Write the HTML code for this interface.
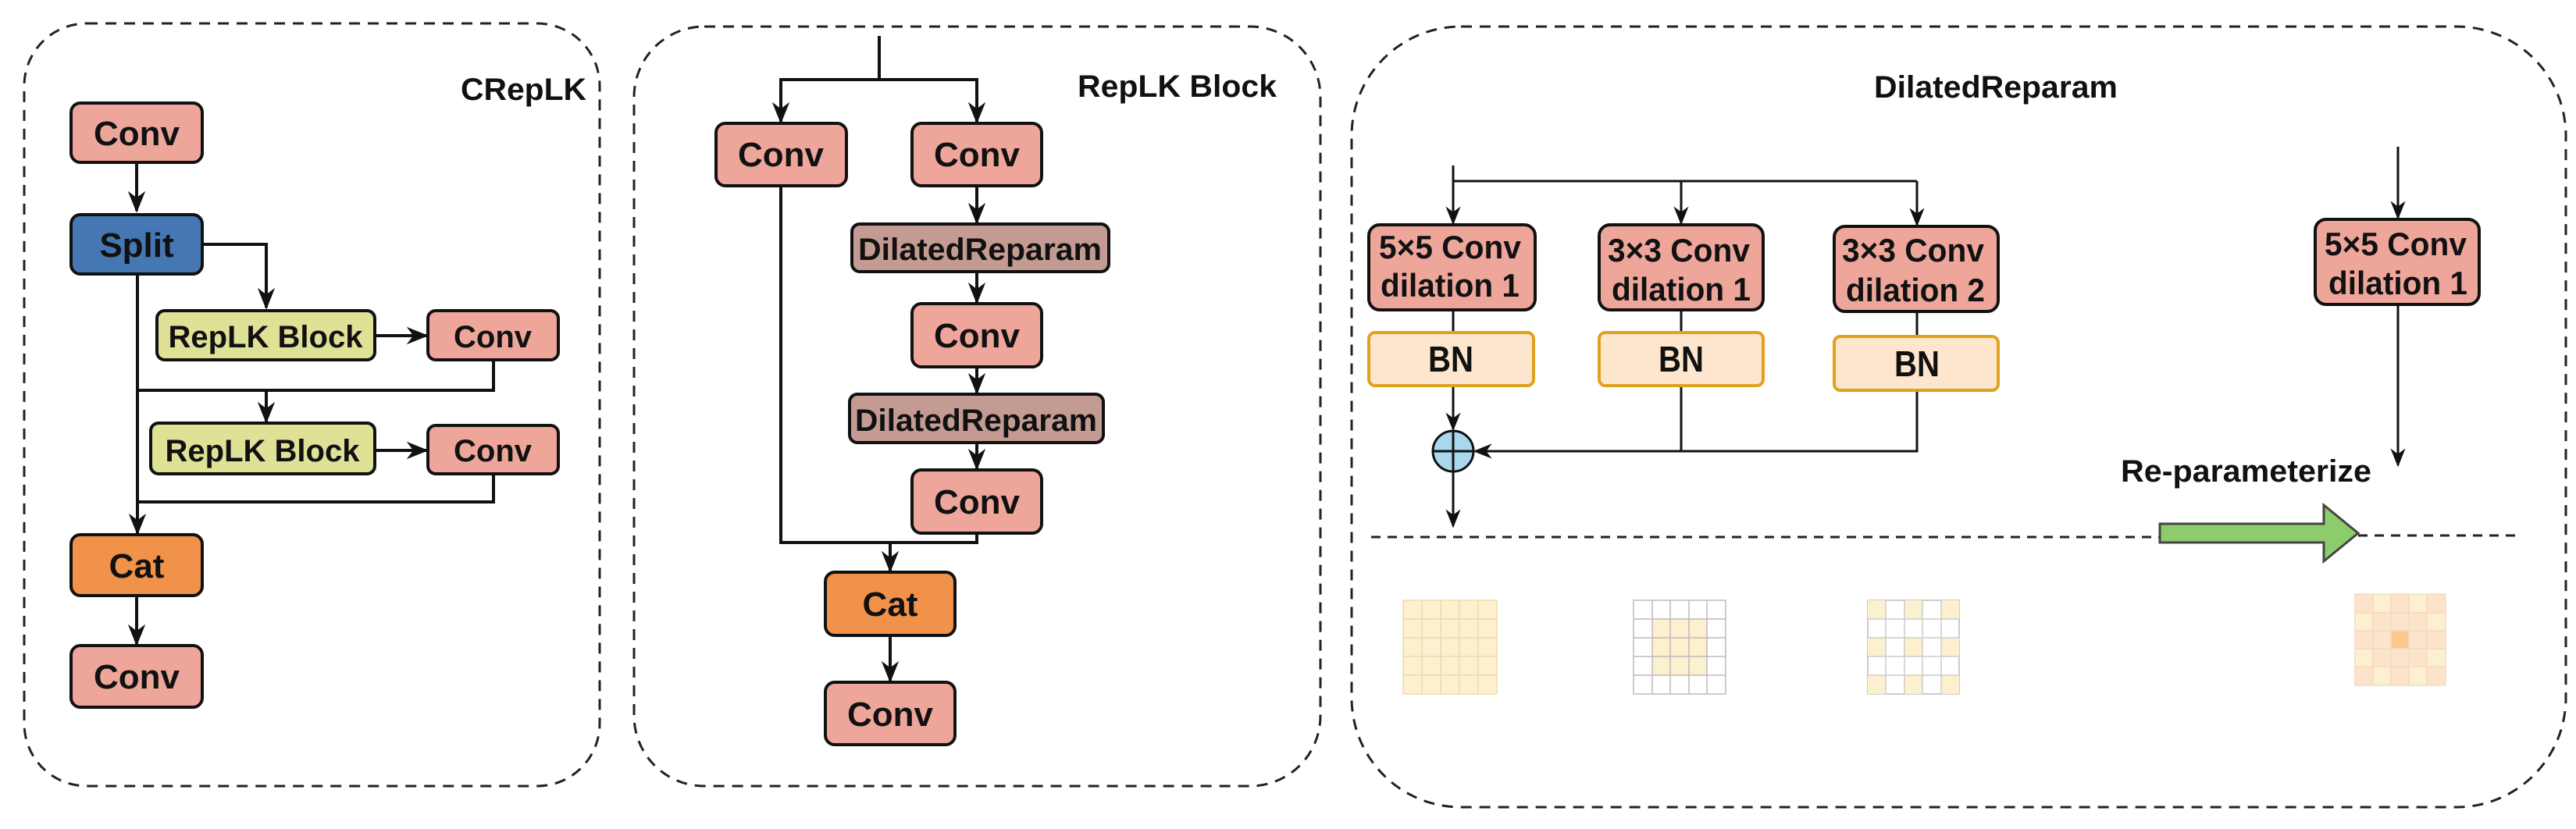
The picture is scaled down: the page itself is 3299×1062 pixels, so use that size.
<!DOCTYPE html>
<html><head><meta charset="utf-8"><style>
html,body{margin:0;padding:0;background:#fff;}
svg{display:block;}
text{font-family:"Liberation Sans",Arial,sans-serif;font-weight:bold;fill:#111;}
</style></head><body>
<svg width="3299" height="1062" viewBox="0 0 3299 1062" xmlns="http://www.w3.org/2000/svg">
<defs>
<marker id="a" viewBox="0 0 20 20" refX="18" refY="10" markerWidth="28" markerHeight="28" orient="auto" markerUnits="userSpaceOnUse"><path d="M0,2 L20,10 L0,18 L6,10 z" fill="#111"/></marker>
<marker id="b" viewBox="0 0 20 20" refX="18" refY="10" markerWidth="24" markerHeight="24" orient="auto" markerUnits="userSpaceOnUse"><path d="M0,2 L20,10 L0,18 L6,10 z" fill="#111"/></marker>
</defs>
<g fill="none" stroke="#222" stroke-width="3" stroke-dasharray="14,10">
<rect x="31" y="30" width="737" height="977" rx="80"/>
<rect x="812" y="34" width="879" height="973" rx="90"/>
<rect x="1731" y="34" width="1555" height="1000" rx="140"/>
</g>
<!-- Panel 1 -->
<text x="590" y="128" font-size="40" textLength="161" lengthAdjust="spacingAndGlyphs">CRepLK</text>
<g stroke="#111" stroke-width="4" fill="none">
<path d="M175,208 V270" marker-end="url(#a)"/>
<path d="M259,313 H341 V394" marker-end="url(#a)"/>
<path d="M480,430 H546" marker-end="url(#a)"/>
<path d="M632,461 V500 H176"/>
<path d="M341,500 V540" marker-end="url(#a)"/>
<path d="M480,577 H546" marker-end="url(#a)"/>
<path d="M632,607 V643 H176"/>
<path d="M176,351 V683" marker-end="url(#a)"/>
<path d="M175,763 V825" marker-end="url(#a)"/>
</g>
<g stroke="#111" stroke-width="4">
<rect x="91" y="132" width="168" height="76" rx="12" fill="#eea69b"/>
<rect x="91" y="275" width="168" height="76" rx="12" fill="#4577b2"/>
<rect x="201" y="398" width="279" height="63" rx="10" fill="#dfe196"/>
<rect x="548" y="398" width="167" height="63" rx="10" fill="#eea69b"/>
<rect x="193" y="542" width="287" height="65" rx="10" fill="#dfe196"/>
<rect x="548" y="545" width="167" height="62" rx="10" fill="#eea69b"/>
<rect x="91" y="685" width="168" height="78" rx="12" fill="#f0924a"/>
<rect x="91" y="827" width="168" height="79" rx="12" fill="#eea69b"/>
</g>
<g font-size="44" text-anchor="middle">
<text x="175" y="186">Conv</text>
<text x="175" y="329">Split</text>
<text x="340" y="445" font-size="40">RepLK Block</text>
<text x="631" y="445" font-size="40">Conv</text>
<text x="336" y="591" font-size="40">RepLK Block</text>
<text x="631" y="591" font-size="40">Conv</text>
<text x="175" y="740">Cat</text>
<text x="175" y="882">Conv</text>
</g>
<!-- Panel 2 -->
<text x="1380" y="124" font-size="40" textLength="255" lengthAdjust="spacingAndGlyphs">RepLK Block</text>
<g stroke="#111" stroke-width="4" fill="none">
<path d="M1126,46 V102"/>
<path d="M1126,102 H1000 V156" marker-end="url(#a)"/>
<path d="M1126,102 H1251 V156" marker-end="url(#a)"/>
<path d="M1251,238 V285" marker-end="url(#a)"/>
<path d="M1251,348 V387" marker-end="url(#a)"/>
<path d="M1251,470 V503" marker-end="url(#a)"/>
<path d="M1251,567 V600" marker-end="url(#a)"/>
<path d="M1000,238 V695 H1251 V683"/>
<path d="M1140,695 V731" marker-end="url(#a)"/>
<path d="M1140,814 V872" marker-end="url(#a)"/>
</g>
<g stroke="#111" stroke-width="4">
<rect x="917" y="158" width="167" height="80" rx="12" fill="#eea69b"/>
<rect x="1168" y="158" width="166" height="80" rx="12" fill="#eea69b"/>
<rect x="1091" y="287" width="329" height="61" rx="10" fill="#c49b93"/>
<rect x="1168" y="389" width="166" height="81" rx="12" fill="#eea69b"/>
<rect x="1088" y="505" width="325" height="62" rx="10" fill="#c49b93"/>
<rect x="1168" y="602" width="166" height="81" rx="12" fill="#eea69b"/>
<rect x="1057" y="733" width="166" height="81" rx="12" fill="#f0924a"/>
<rect x="1057" y="874" width="166" height="80" rx="12" fill="#eea69b"/>
</g>
<g font-size="44" text-anchor="middle">
<text x="1000" y="213">Conv</text>
<text x="1251" y="213">Conv</text>
<text x="1255" y="333" font-size="40" textLength="312" lengthAdjust="spacingAndGlyphs">DilatedReparam</text>
<text x="1251" y="445">Conv</text>
<text x="1250" y="552" font-size="40" textLength="310" lengthAdjust="spacingAndGlyphs">DilatedReparam</text>
<text x="1251" y="658">Conv</text>
<text x="1140" y="789">Cat</text>
<text x="1140" y="930">Conv</text>
</g>
<!-- Panel 3 -->
<text x="2400" y="125" font-size="40" textLength="312" lengthAdjust="spacingAndGlyphs">DilatedReparam</text>
<g stroke="#111" stroke-width="3" fill="none">
<path d="M1861,212 V232 H2455"/>
<path d="M1861,232 V286" marker-end="url(#b)"/>
<path d="M2153,232 V286" marker-end="url(#b)"/>
<path d="M2455,232 V288" marker-end="url(#b)"/>
<path d="M1861,397 V426 M2153,397 V426 M2455,399 V431"/>
<path d="M1861,494 V550" marker-end="url(#b)"/>
<path d="M2153,494 V578 M2455,500 V578 H1889" marker-end="url(#b)"/>
<path d="M1861,604 V674" marker-end="url(#b)"/>
<path d="M3071,188 V279" marker-end="url(#b)"/>
<path d="M3071,390 V596" marker-end="url(#b)"/>
</g>
<circle cx="1861" cy="578" r="26" fill="#a9d8ec" stroke="#111" stroke-width="3"/>
<path d="M1835,578 H1887 M1861,552 V604" stroke="#111" stroke-width="3"/>
<g stroke="#111" stroke-width="4" fill="#eea69b">
<rect x="1753" y="288" width="213" height="109" rx="14"/>
<rect x="2048" y="288" width="210" height="109" rx="14"/>
<rect x="2349" y="290" width="210" height="109" rx="14"/>
<rect x="2965" y="281" width="210" height="109" rx="14"/>
</g>
<g stroke="#e0a21e" stroke-width="4" fill="#fde6cd">
<rect x="1753" y="426" width="211" height="68" rx="8"/>
<rect x="2048" y="426" width="210" height="68" rx="8"/>
<rect x="2349" y="431" width="210" height="69" rx="8"/>
</g>
<g font-size="42" text-anchor="middle">
<text x="1857" y="331" textLength="182" lengthAdjust="spacingAndGlyphs">5×5 Conv</text>
<text x="1857" y="380" textLength="178" lengthAdjust="spacingAndGlyphs">dilation 1</text>
<text x="2150" y="335" textLength="182" lengthAdjust="spacingAndGlyphs">3×3 Conv</text>
<text x="2153" y="385" textLength="178" lengthAdjust="spacingAndGlyphs">dilation 1</text>
<text x="2450" y="335" textLength="182" lengthAdjust="spacingAndGlyphs">3×3 Conv</text>
<text x="2453" y="386" textLength="178" lengthAdjust="spacingAndGlyphs">dilation 2</text>
<text x="3068" y="327" textLength="182" lengthAdjust="spacingAndGlyphs">5×5 Conv</text>
<text x="3071" y="377" textLength="178" lengthAdjust="spacingAndGlyphs">dilation 1</text>
<text x="1858" y="476" font-size="46" textLength="58" lengthAdjust="spacingAndGlyphs">BN</text>
<text x="2153" y="476" font-size="46" textLength="58" lengthAdjust="spacingAndGlyphs">BN</text>
<text x="2455" y="482" font-size="46" textLength="58" lengthAdjust="spacingAndGlyphs">BN</text>
</g>
<text x="2716" y="617" font-size="40" textLength="321" lengthAdjust="spacingAndGlyphs">Re-parameterize</text>
<path d="M1756,688 H2766 M3020,686 H3227" stroke="#222" stroke-width="3" stroke-dasharray="12,9" fill="none"/>
<path d="M2766,671 H2976 V647 L3020,683 L2976,719 V695 H2766 Z" fill="#8ccc6c" stroke="#444" stroke-width="3"/>
<!-- grids -->
<g stroke-width="1.5">
<g stroke="#efdcae" fill="#fdf0cf">
<rect x="1797" y="769" width="24" height="24"/><rect x="1821" y="769" width="24" height="24"/><rect x="1845" y="769" width="24" height="24"/><rect x="1869" y="769" width="24" height="24"/><rect x="1893" y="769" width="24" height="24"/>
<rect x="1797" y="793" width="24" height="24"/><rect x="1821" y="793" width="24" height="24"/><rect x="1845" y="793" width="24" height="24"/><rect x="1869" y="793" width="24" height="24"/><rect x="1893" y="793" width="24" height="24"/>
<rect x="1797" y="817" width="24" height="24"/><rect x="1821" y="817" width="24" height="24"/><rect x="1845" y="817" width="24" height="24"/><rect x="1869" y="817" width="24" height="24"/><rect x="1893" y="817" width="24" height="24"/>
<rect x="1797" y="841" width="24" height="24"/><rect x="1821" y="841" width="24" height="24"/><rect x="1845" y="841" width="24" height="24"/><rect x="1869" y="841" width="24" height="24"/><rect x="1893" y="841" width="24" height="24"/>
<rect x="1797" y="865" width="24" height="24"/><rect x="1821" y="865" width="24" height="24"/><rect x="1845" y="865" width="24" height="24"/><rect x="1869" y="865" width="24" height="24"/><rect x="1893" y="865" width="24" height="24"/>
</g>
<rect x="2092" y="769" width="118" height="120" stroke="#bbb" fill="#fff"/>
<rect x="2116" y="793" width="70" height="72" fill="#fdf0cf"/>
<path d="M2116,769 V889 M2139,769 V889 M2163,769 V889 M2186,769 V889 M2092,793 H2210 M2092,817 H2210 M2092,841 H2210 M2092,865 H2210" stroke="#bbb" fill="none"/>
<rect x="2392" y="769" width="117" height="120" fill="#fff" stroke="#bbb"/>
<g fill="#fdf0cf">
<rect x="2392" y="769" width="23" height="24"/><rect x="2439" y="769" width="23" height="24"/><rect x="2486" y="769" width="23" height="24"/>
<rect x="2392" y="817" width="23" height="24"/><rect x="2439" y="817" width="23" height="24"/><rect x="2486" y="817" width="23" height="24"/>
<rect x="2392" y="865" width="23" height="24"/><rect x="2439" y="865" width="23" height="24"/><rect x="2486" y="865" width="23" height="24"/>
</g>
<path d="M2415,769 V889 M2439,769 V889 M2462,769 V889 M2486,769 V889 M2392,793 H2509 M2392,817 H2509 M2392,841 H2509 M2392,865 H2509" stroke="#ccc" fill="none"/>
<g stroke="#f0dcc0">
<rect x="3016" y="761" width="23" height="24" fill="#fde3cc"/><rect x="3039" y="761" width="23" height="24" fill="#fdf0cf"/><rect x="3062" y="761" width="23" height="24" fill="#fde3cc"/><rect x="3085" y="761" width="23" height="24" fill="#fdf0cf"/><rect x="3108" y="761" width="24" height="24" fill="#fde3cc"/>
<rect x="3016" y="785" width="23" height="23" fill="#fdf0cf"/><rect x="3039" y="785" width="23" height="23" fill="#fde3cc"/><rect x="3062" y="785" width="23" height="23" fill="#fde3cc"/><rect x="3085" y="785" width="23" height="23" fill="#fde3cc"/><rect x="3108" y="785" width="24" height="23" fill="#fdf0cf"/>
<rect x="3016" y="808" width="23" height="23" fill="#fde3cc"/><rect x="3039" y="808" width="23" height="23" fill="#fde3cc"/><rect x="3062" y="808" width="23" height="23" fill="#fcc890"/><rect x="3085" y="808" width="23" height="23" fill="#fde3cc"/><rect x="3108" y="808" width="24" height="23" fill="#fde3cc"/>
<rect x="3016" y="831" width="23" height="23" fill="#fdf0cf"/><rect x="3039" y="831" width="23" height="23" fill="#fde3cc"/><rect x="3062" y="831" width="23" height="23" fill="#fde3cc"/><rect x="3085" y="831" width="23" height="23" fill="#fde3cc"/><rect x="3108" y="831" width="24" height="23" fill="#fdf0cf"/>
<rect x="3016" y="854" width="23" height="24" fill="#fde3cc"/><rect x="3039" y="854" width="23" height="24" fill="#fdf0cf"/><rect x="3062" y="854" width="23" height="24" fill="#fde3cc"/><rect x="3085" y="854" width="23" height="24" fill="#fdf0cf"/><rect x="3108" y="854" width="24" height="24" fill="#fde3cc"/>
</g>
</g>
</svg>
</body></html>
